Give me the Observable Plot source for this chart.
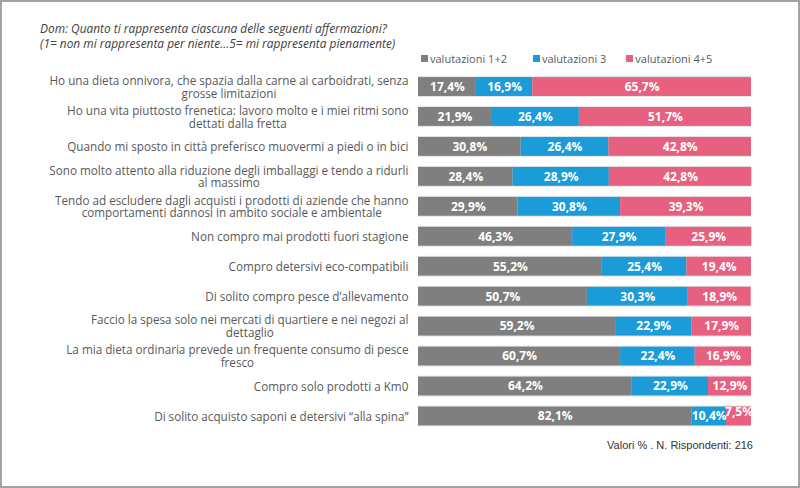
<!DOCTYPE html>
<html>
<head>
<meta charset="utf-8">
<script src="https://cdn.jsdelivr.net/npm/d3@7"></script>
<script src="https://cdn.jsdelivr.net/npm/@observablehq/plot@0.6"></script>
<style>
  html, body { margin: 0; padding: 0; background: #fff; }
  #wrap { position: relative; width: 800px; height: 488px; overflow: hidden; font-family: "Open Sans", sans-serif; }
  #wrap svg { position: absolute; left: 0; top: 0; }
  #frame { position: absolute; left: 0; top: 0; width: 800px; height: 488px; box-sizing: border-box; border: 2px solid #a3a3a3; pointer-events: none; }
  #title { position: absolute; left: 40px; top: 21px; font-size: 11.9px; font-style: italic; color: #404040; line-height: 15px; }
  #legend { position: absolute; left: 421px; top: 51px; font-size: 11px; color: #595959; display: flex; }
  #legend .item { display: flex; align-items: center; }
  #legend .sw { width: 7px; height: 7px; margin-right: 2px; }
  #footer { position: absolute; right: 47px; top: 439px; font-size: 11px; color: #333; font-family: "Liberation Sans", sans-serif; }
</style>
</head>
<body>
<div id="wrap">
  <div id="title"></div>
  <div id="legend"></div>
  <div id="footer"></div>
  <div id="frame"></div>
</div>
<script>
const titleLines = [
  "Dom: Quanto ti rappresenta ciascuna delle seguenti affermazioni?",
  "(1= non mi rappresenta per niente…5= mi rappresenta pienamente)"
];
const footerText = "Valori % . N. Rispondenti: 216";

const categories = [
  "Ho una dieta onnivora, che spazia dalla carne ai carboidrati, senza\ngrosse limitazioni",
  "Ho una vita piuttosto frenetica: lavoro molto e i miei ritmi sono\ndettati dalla fretta",
  "Quando mi sposto in città preferisco muovermi a piedi o in bici",
  "Sono molto attento alla riduzione degli imballaggi e tendo a ridurli\nal massimo",
  "Tendo ad escludere dagli acquisti i prodotti di aziende che hanno\ncomportamenti dannosi in ambito sociale e ambientale",
  "Non compro mai prodotti fuori stagione",
  "Compro detersivi eco-compatibili",
  "Di solito compro pesce d’allevamento",
  "Faccio la spesa solo nei mercati di quartiere e nei negozi al\ndettaglio",
  "La mia dieta ordinaria prevede un frequente consumo di pesce\nfresco",
  "Compro solo prodotti a Km0",
  "Di solito acquisto saponi e detersivi “alla spina”"
];

const series = ["valutazioni 1+2", "valutazioni 3", "valutazioni 4+5"];
const colors = ["#7f7f7f", "#1b9bd7", "#e8607f"];

const val12 = [17.4, 21.9, 30.8, 28.4, 29.9, 46.3, 55.2, 50.7, 59.2, 60.7, 64.2, 82.1];
const val3  = [16.9, 26.4, 26.4, 28.9, 30.8, 27.9, 25.4, 30.3, 22.9, 22.4, 22.9, 10.4];
const val45 = [65.7, 51.7, 42.8, 42.8, 39.3, 25.9, 19.4, 18.9, 17.9, 16.9, 12.9, 7.5];

const seriesValues = [val12, val3, val45];
const data = categories.flatMap((c, i) =>
  series.map((s, j) => ({cat: c, s, v: seriesValues[j][i]}))
);

const fmt = v => v.toFixed(1).replace(".", ",") + "%";
const small = 10; // segments narrower than this get their label lifted

document.getElementById("title").innerHTML = titleLines.map(t => `<div>${t}</div>`).join("");
document.getElementById("footer").textContent = footerText;
const legendGaps = [26, 20, 0];
document.getElementById("legend").innerHTML = series.map((s, j) =>
  `<div class="item" style="margin-right:${legendGaps[j]}px"><span class="sw" style="background:${colors[j]}"></span>${s}</div>`
).join("");

const labelOpts = {x: "v", y: "cat", z: "s", fill: "white", fontWeight: "bold", fontSize: 12};

const chart = Plot.plot({
  width: 800,
  height: 488,
  marginLeft: 418,
  marginRight: 49,
  marginTop: 66,
  marginBottom: 51.5,
  style: {fontFamily: "'Open Sans', sans-serif", background: "transparent"},
  x: {domain: [0, 100], axis: null},
  y: {domain: categories, padding: 0.37, round: false, axis: null},
  color: {domain: series, range: colors},
  marks: [
    Plot.axisY({tickSize: 0, tickPadding: 10, fontSize: 11.7, fill: "#595959", lineHeight: 1.1, textOverflow: null, lineWidth: Infinity, label: null}),
    Plot.barX(categories, {x: () => 100, y: d => d, fill: "#e4e4e4", insetTop: -1, insetBottom: -1}),
    Plot.barX(data, Plot.stackX({x: "v", y: "cat", fill: "s"})),
    Plot.text(data, Plot.stackX({...labelOpts, text: d => d.v >= small ? fmt(d.v) : null})),
    Plot.text(data, Plot.stackX({...labelOpts, text: d => d.v < small ? fmt(d.v) : null, dy: -4}))
  ]
});
document.getElementById("wrap").insertBefore(chart, document.getElementById("frame"));

// Center multi-line labels as a block right-aligned to the axis
chart.querySelectorAll('g[aria-label="y-axis tick label"] text').forEach(t => {
  const w = t.getBBox().width;
  t.setAttribute("text-anchor", "middle");
  const tr = t.getAttribute("transform") || "";
  t.setAttribute("transform", tr + ` translate(${-w / 2},0)`);
});
</script>
</body>
</html>
